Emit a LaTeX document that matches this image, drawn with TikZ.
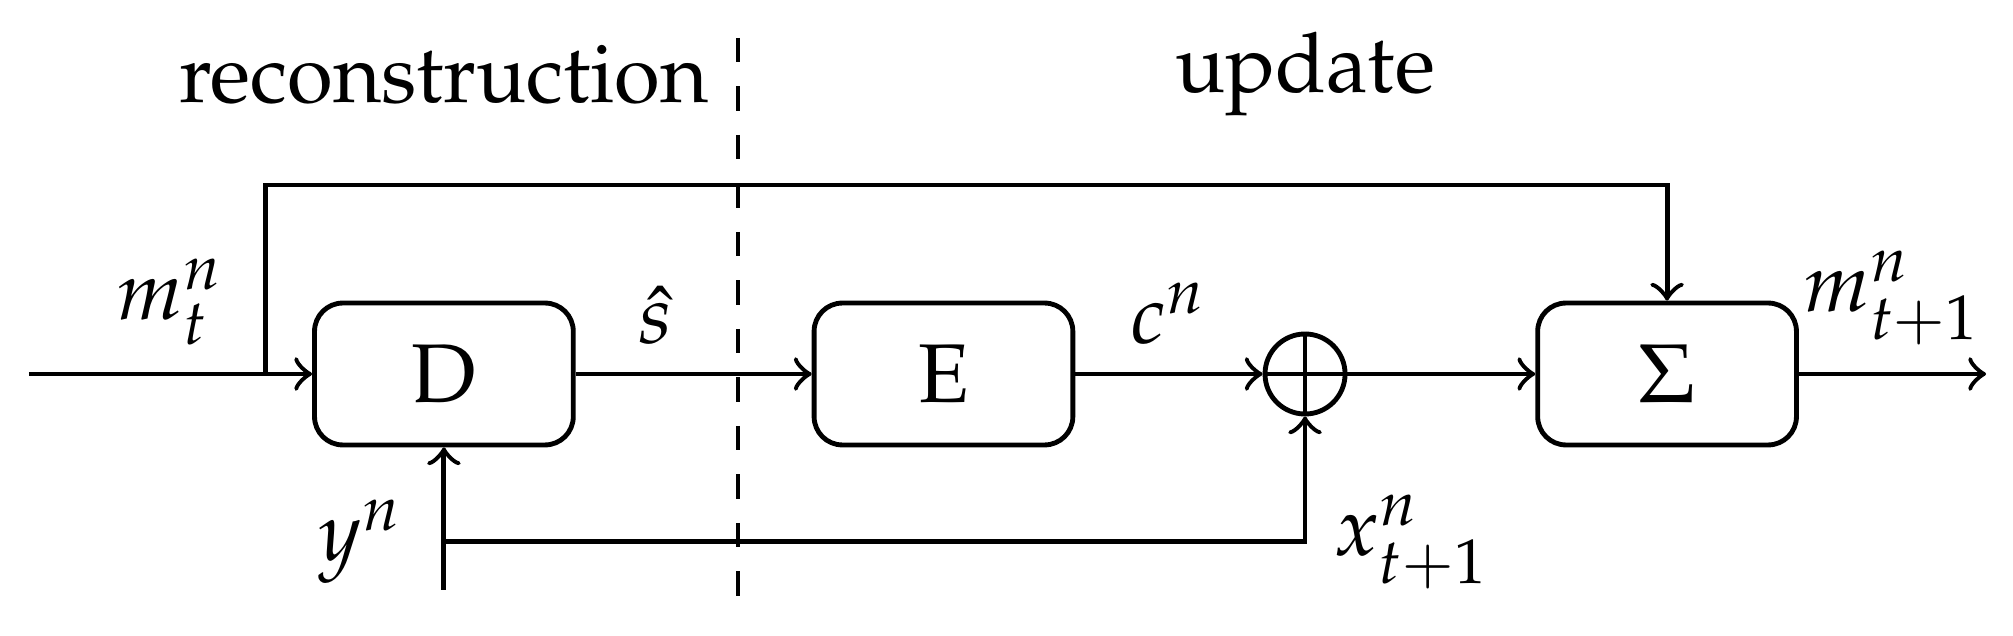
\documentclass[tikz,border=0pt]{standalone}
\usepackage[T1]{fontenc}
\usepackage{mathpazo}
\usepackage{amsmath}
\usetikzlibrary{positioning}

\tikzset{
	block/.style = {draw, semithick, rounded corners=3.5pt, minimum width=1.125cm, minimum height=0.617cm},
	adder/.style = {draw, semithick, circle, minimum size=0.348cm, inner sep=0pt},
	link/.style = {semithick, ->},
}

\begin{document}
\begin{tikzpicture}[font=\fontsize{10.3}{12.4}\selectfont]
	\useasboundingbox (0,0) rectangle (8.752,2.765);

	% blocks
	\node[block] (D) at (1.93,1.139) {D};
	\node[block] (E) at (4.102,1.139) {E};
	\node[adder] (add) at (5.674,1.139) {};
	\node[block] (sigma) at (7.248,1.139) {$\Sigma$};
	\draw[semithick] (add.north) -- (add.south);
	\draw[semithick] (add.west) -- (add.east);

	\coordinate (in) at (0.126,1.139);
	\coordinate (branch) at (1.155,1.139);
	\coordinate (top) at (1.155,1.961);
	\coordinate (out) at (8.635,1.139);
	\coordinate (yin) at (1.93,0.2);
	\coordinate (ysplit) at (1.93,0.409);
	\coordinate (xcorner) at (5.674,0.409);

	% signal path
	\draw[link] (in) -- node[above] {$m_t^n$} (D);
	\draw[link] (D) -- node[above, pos=0.34] {$\hat{s}$} (E);
	\draw[link] (E) -- node[above] {$c^n$} (add);
	\draw[link] (add) -- (sigma);
	\draw[link] (sigma) -- node[above] {$m_{t+1}^n$} (out);

	% feedback lines
	\draw[link] (branch) -- (top) -| (sigma);
	\draw[link] (yin) -- (D);
	\draw[link] (ysplit) -- (xcorner) -- (add);
	\node[left=1.5pt of ysplit] (ylabel) {$y^n$};
	\node[right=0pt of xcorner] (xlabel) {$x_{t+1}^n$};

	% stages
	\draw[dashed] (3.209,2.6) -- (3.209,0.104);
	\node (rec) at (1.93,2.443) {reconstruction};
	\node (upd) at (5.674,2.443) {update};

\end{tikzpicture}
\end{document}
